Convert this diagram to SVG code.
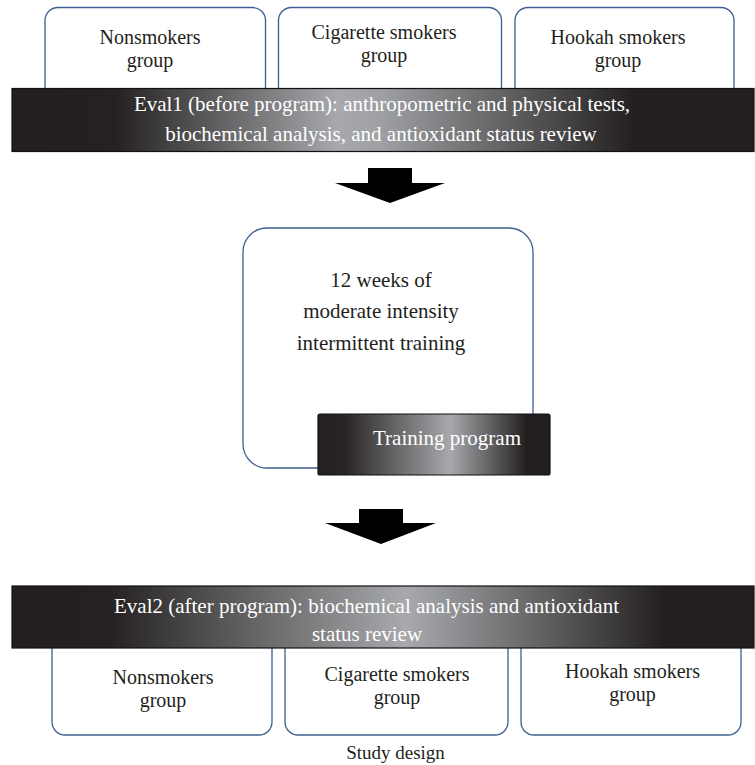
<svg xmlns="http://www.w3.org/2000/svg" width="755" height="765" viewBox="0 0 755 765">
<defs>
<linearGradient id="g1" gradientUnits="userSpaceOnUse" x1="12" y1="0" x2="754" y2="0">
<stop offset="0" stop-color="#231f20"/>
<stop offset="0.14" stop-color="#252122"/>
<stop offset="0.44" stop-color="#a7a9ac"/>
<stop offset="0.5" stop-color="#9d9fa2"/>
<stop offset="0.84" stop-color="#231f20"/>
<stop offset="1" stop-color="#231f20"/>
</linearGradient>
<linearGradient id="g2" gradientUnits="userSpaceOnUse" x1="12" y1="0" x2="754" y2="0">
<stop offset="0" stop-color="#231f20"/>
<stop offset="0.13" stop-color="#252122"/>
<stop offset="0.53" stop-color="#a7a9ac"/>
<stop offset="0.56" stop-color="#9d9fa2"/>
<stop offset="0.88" stop-color="#231f20"/>
<stop offset="1" stop-color="#231f20"/>
</linearGradient>
<linearGradient id="g3" gradientUnits="userSpaceOnUse" x1="318" y1="0" x2="550" y2="0">
<stop offset="0" stop-color="#231f20"/>
<stop offset="0.12" stop-color="#2a2627"/>
<stop offset="0.57" stop-color="#a7a9ac"/>
<stop offset="0.9" stop-color="#231f20"/>
<stop offset="1" stop-color="#231f20"/>
</linearGradient>
</defs>
<style>
.box{fill:#fff;stroke:#3e5f8f;stroke-width:1.3}
.ban{stroke:#111;stroke-width:1.2}
.t{font-family:"Liberation Serif","Times New Roman",serif;font-size:20px;fill:#231f20;text-anchor:middle}
.tr{font-family:"Liberation Serif","Times New Roman",serif;font-size:21px;fill:#231f20;text-anchor:middle}
.w{font-family:"Liberation Serif","Times New Roman",serif;font-size:21px;fill:#fff;text-anchor:middle}
.cap{font-family:"Liberation Serif","Times New Roman",serif;font-size:19px;fill:#231f20;text-anchor:middle}
.arr{fill:#000}
</style>

<g id="top-nonsmokers">
<rect class="box" x="45" y="7.5" width="220.5" height="110" rx="13"/>
<text class="t" x="150" y="44">Nonsmokers</text>
<text class="t" x="150" y="67">group</text>
</g>
<g id="top-cigarette">
<rect class="box" x="278.5" y="7.5" width="223" height="110" rx="13"/>
<text class="t" x="384" y="38.5">Cigarette smokers</text>
<text class="t" x="384" y="61.5">group</text>
</g>
<g id="top-hookah">
<rect class="box" x="515" y="7.5" width="219" height="110" rx="13"/>
<text class="t" x="618" y="43.5">Hookah smokers</text>
<text class="t" x="618" y="66.5">group</text>
</g>

<g id="eval1">
<rect class="ban" x="12" y="88.5" width="742" height="63" fill="url(#g1)"/>
<text class="w" x="382" y="111">Eval1 (before program): anthropometric and physical tests,</text>
<text class="w" x="381" y="141">biochemical analysis, and antioxidant status review</text>
</g>

<g id="training">
<rect class="box" x="243" y="228" width="290" height="240" rx="24"/>
<text class="tr" x="381" y="287">12 weeks of</text>
<text class="tr" x="381" y="318">moderate intensity</text>
<text class="tr" x="381" y="350">intermittent training</text>
</g>
<g id="training-program">
<rect class="ban" x="318" y="414" width="232" height="61" rx="2" fill="url(#g3)"/>
<text class="w" x="447" y="445">Training program</text>
</g>

<g id="bottom-nonsmokers">
<rect class="box" x="52" y="620" width="220" height="115" rx="13"/>
<text class="t" x="163" y="684">Nonsmokers</text>
<text class="t" x="163" y="707">group</text>
</g>
<g id="bottom-cigarette">
<rect class="box" x="285" y="620" width="223" height="115" rx="13"/>
<text class="t" x="397" y="681">Cigarette smokers</text>
<text class="t" x="397" y="704">group</text>
</g>
<g id="bottom-hookah">
<rect class="box" x="521" y="620" width="220" height="115" rx="13"/>
<text class="t" x="632.5" y="677.5">Hookah smokers</text>
<text class="t" x="632.5" y="700.5">group</text>
</g>

<g id="eval2">
<rect class="ban" x="12" y="586" width="742" height="62" fill="url(#g2)"/>
<text class="w" x="366.5" y="613">Eval2 (after program): biochemical analysis and antioxidant</text>
<text class="w" x="367" y="640.5">status review</text>
</g>

<g id="connectors">
<polygon class="arr" points="368,168 412,168 412,183 445,183 390,203 335,183 368,183"/>
<polygon class="arr" points="359,509 403,509 403,523 436,523 381,544 325,523 359,523"/>
</g>

<text class="cap" x="395.5" y="759">Study design</text>
</svg>
